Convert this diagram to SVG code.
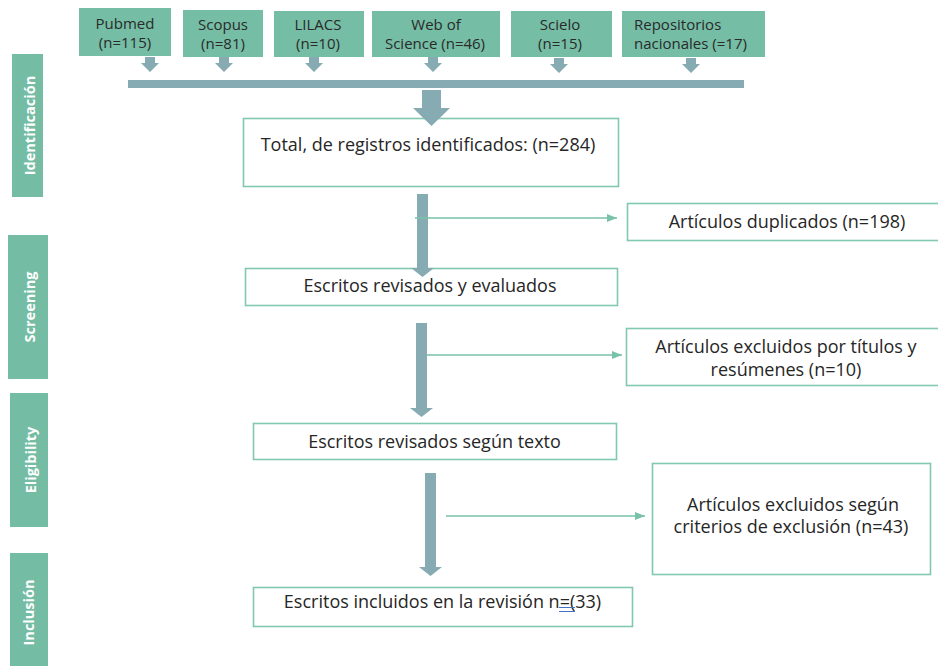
<svg xmlns="http://www.w3.org/2000/svg" width="938" height="666" viewBox="0 0 938 666">
<defs>
<marker id="ah" markerWidth="10" markerHeight="8" refX="10" refY="4" orient="auto" markerUnits="userSpaceOnUse">
<path d="M0,0 L10,4 L0,8 Z" fill="#78C2A8"/>
</marker>
<style>
.src{fill:#75BDA5;}
.srct{font-family:"Open Sans","Liberation Sans",sans-serif;font-size:15px;fill:#2a2a2a;text-anchor:middle;}
.phase{fill:#74BCA4;}
.phaset{font-family:"Open Sans","Liberation Sans",sans-serif;font-size:14.5px;font-weight:bold;fill:#ffffff;text-anchor:middle;}
.box{fill:#ffffff;stroke:#80C8B0;stroke-width:1.6;}
.bt{font-family:"Open Sans","Liberation Sans",sans-serif;font-size:18px;fill:#262626;text-anchor:middle;}
.blk{fill:#86ABB3;}
.thin{stroke:#78C2A8;stroke-width:1.6;fill:none;}
</style>
</defs>
<rect width="938" height="666" fill="#ffffff"/>

<g id="phases">
<g id="phase-identificacion">
<rect class="phase" x="12" y="54" width="31" height="143"/>
<text class="phaset" transform="translate(35,125.5) rotate(-90)">Identificación</text>
</g>
<g id="phase-screening">
<rect class="phase" x="8" y="235" width="40" height="144"/>
<text class="phaset" transform="translate(35,307) rotate(-90)">Screening</text>
</g>
<g id="phase-eligibility">
<rect class="phase" x="10" y="393" width="38" height="134"/>
<text class="phaset" transform="translate(36,460) rotate(-90)">Eligibility</text>
</g>
<g id="phase-inclusion">
<rect class="phase" x="10" y="553" width="38" height="115"/>
<text class="phaset" transform="translate(34,612.5) rotate(-90)">Inclusión</text>
</g>
</g>

<g id="src-pubmed">
<rect class="src" x="79" y="8" width="92" height="48"/>
<text class="srct" x="125" y="29">Pubmed</text>
<text class="srct" x="125" y="48">(n=115)</text>
</g>
<g id="src-scopus">
<rect class="src" x="183" y="10" width="80" height="47"/>
<text class="srct" x="223" y="30">Scopus</text>
<text class="srct" x="223" y="49">(n=81)</text>
</g>
<g id="src-lilacs">
<rect class="src" x="274" y="11" width="90" height="46"/>
<text class="srct" x="318" y="30">LILACS</text>
<text class="srct" x="318" y="49">(n=10)</text>
</g>
<g id="src-wos">
<rect class="src" x="372" y="11" width="128" height="46"/>
<text class="srct" x="436" y="30">Web of</text>
<text class="srct" x="435" y="49">Science (n=46)</text>
</g>
<g id="src-scielo">
<rect class="src" x="511" y="11" width="101" height="46"/>
<text class="srct" x="560" y="30">Scielo</text>
<text class="srct" x="560" y="49">(n=15)</text>
</g>
<g id="src-repositorios">
<rect class="src" x="622" y="11" width="143" height="46"/>
<text class="srct" x="634" y="30" style="text-anchor:start">Repositorios</text>
<text class="srct" x="634" y="49" style="text-anchor:start">nacionales (=17)</text>
</g>

<g id="n-total">
<rect class="box" x="243.5" y="118.5" width="375" height="68"/>
<text class="bt" x="428" y="151">Total, de registros identificados: (n=284)</text>
</g>
<g id="n-duplicados">
<rect class="box" x="627.5" y="203.5" width="315" height="37"/>
<text class="bt" x="787" y="228">Artículos duplicados (n=198)</text>
</g>
<g id="n-revisados">
<rect class="box" x="245.5" y="268.5" width="372" height="37"/>
<text class="bt" x="430" y="292">Escritos revisados y evaluados</text>
</g>
<g id="n-excl-titulos">
<rect class="box" x="626.5" y="328.5" width="316" height="57"/>
<text class="bt" x="786" y="353">Artículos excluidos por títulos y</text>
<text class="bt" x="786" y="376">resúmenes (n=10)</text>
</g>
<g id="n-texto">
<rect class="box" x="253.5" y="423.5" width="363" height="36"/>
<text class="bt" x="434.5" y="448">Escritos revisados según texto</text>
</g>
<g id="n-excl-criterios">
<rect class="box" x="652.5" y="463.5" width="278" height="111"/>
<text class="bt" x="793" y="511">Artículos excluidos según</text>
<text class="bt" x="791" y="533">criterios de exclusión (n=43)</text>
</g>
<g id="n-incluidos">
<rect class="box" x="253.5" y="587.5" width="379" height="39"/>
<text class="bt" x="442.5" y="608">Escritos incluidos en la revisión n=(33)</text>
<path d="M559,607.5 H575 M559,611.5 H575" stroke="#4472C4" stroke-width="1.2" fill="none"/>
</g>

<g id="connectors">
<path class="blk" d="M145,57 H155 V63 H159 L150,72 L141,63 H145 Z"/>
<path class="blk" d="M219,57 H229 V63 H233 L224,72 L215,63 H219 Z"/>
<path class="blk" d="M309,57 H319 V63 H323 L314,72 L305,63 H309 Z"/>
<path class="blk" d="M428,57 H438 V63 H442 L433,72 L424,63 H428 Z"/>
<path class="blk" d="M554,58 H564 V64 H568 L559,73 L550,64 H554 Z"/>
<path class="blk" d="M686,58 H696 V64 H700 L691,73 L682,64 H686 Z"/>
<rect class="blk" x="128" y="80" width="616" height="8"/>
<path class="blk" d="M422,90 H441 V108 H450 L431.5,126 L413,108 H422 Z"/>
<path class="blk" d="M417,194 H428 V268 H434 L422.5,277 L411,268 H417 Z"/>
<path class="blk" d="M416,323 H427 V408 H433 L421.5,417 L410,408 H416 Z"/>
<path class="blk" d="M425,473 H436 V567 H442 L430.5,576 L419,567 H425 Z"/>
<line class="thin" x1="415" y1="218" x2="617" y2="218" marker-end="url(#ah)"/>
<line class="thin" x1="427" y1="355" x2="622" y2="355" marker-end="url(#ah)"/>
<line class="thin" x1="446" y1="516" x2="645" y2="516" marker-end="url(#ah)"/>
</g>
</svg>
